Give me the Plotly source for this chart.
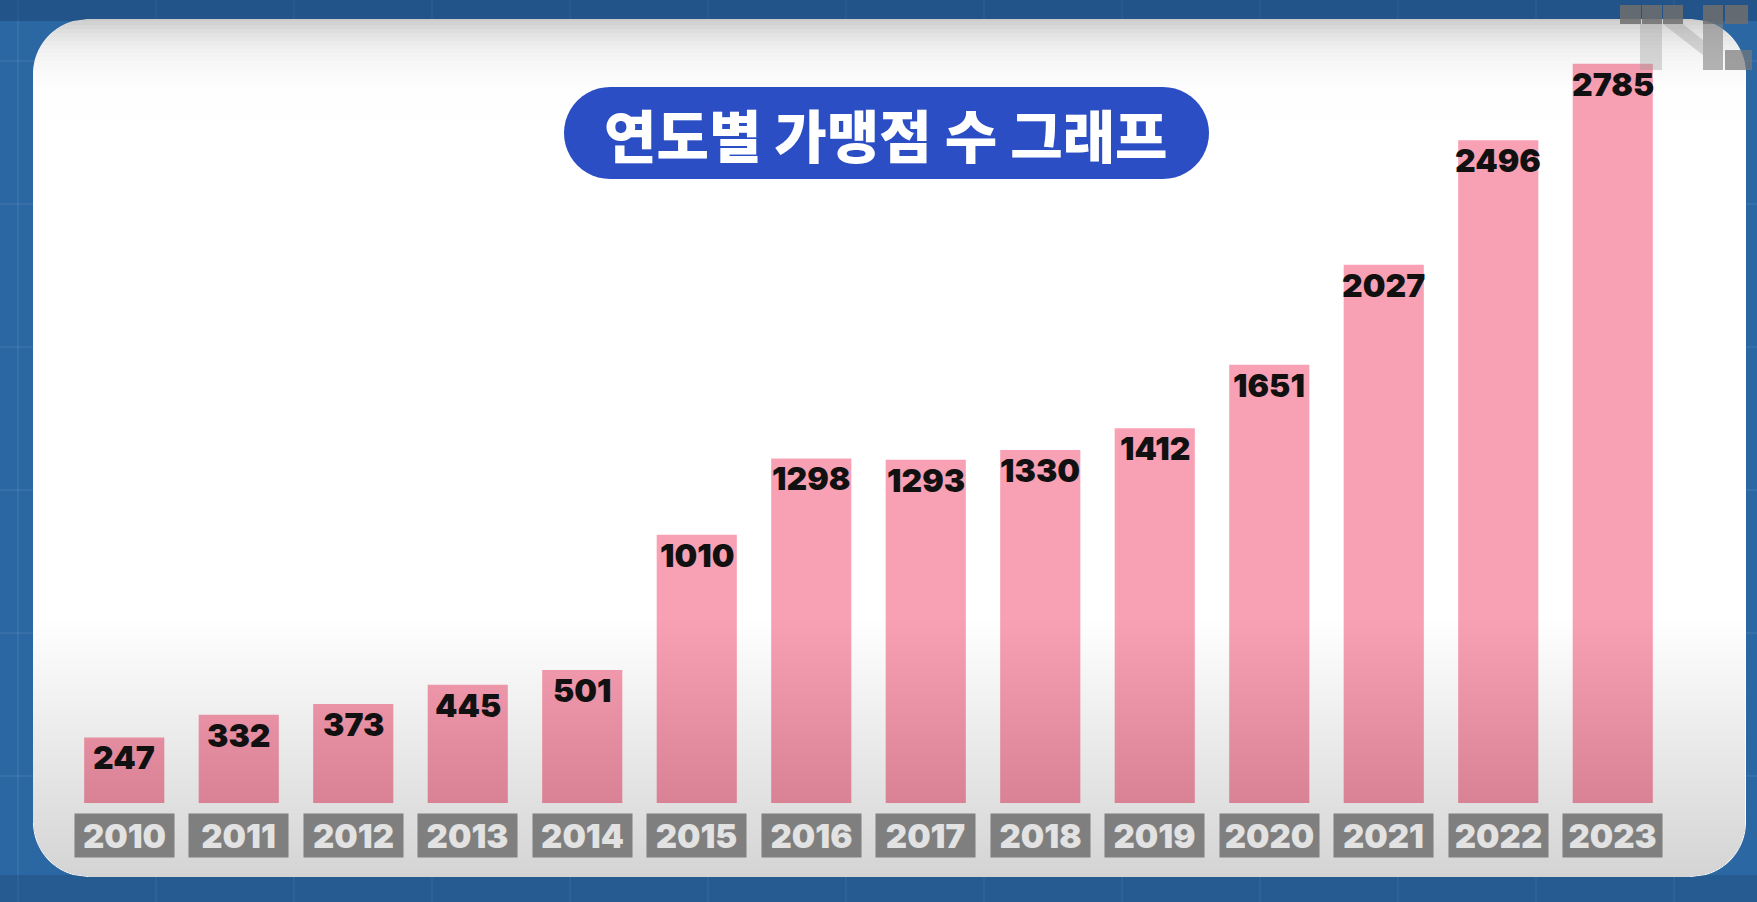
import math
import plotly.graph_objects as go

# ---------------- data ----------------
years = ["2010", "2011", "2012", "2013", "2014", "2015", "2016",
         "2017", "2018", "2019", "2020", "2021", "2022", "2023"]
stores = [247, 332, 373, 445, 501, 1010, 1298, 1293, 1330, 1412, 1651, 2027, 2496, 2785]
title_text = "연도별 가맹점 수 그래프"

# ---------------- geometry helpers ----------------
W, H = 1757, 902
ML, MR, MT, MB = 67, 87, 40, 99
PW = W - ML - MR
PH = H - MT - MB
Y_MAX = 2874


def px(x):
    return (x - ML) / PW


def py(y):
    return (H - MB - y) / PH


def path_from(pts):
    return "M " + " L ".join(f"{px(x):.5f},{py(y):.5f}" for x, y in pts) + " Z"


CX0, CY0, CX1, CY1, CR = 33, 19, 1746, 877, 55


def card_xl(y):
    if y < CY0 + CR:
        dy = CY0 + CR - y
    elif y > CY1 - CR:
        dy = y - (CY1 - CR)
    else:
        dy = 0
    dy = min(dy, CR)
    return CX0 + CR - math.sqrt(max(CR * CR - dy * dy, 0))


def card_band(y0, y1):
    ys = [y0]
    y = y0
    while y < y1:
        y = min(y + 2, y1)
        ys.append(y)
    left = [(card_xl(v), v) for v in ys]
    right = [(CX0 + CX1 - card_xl(v), v) for v in reversed(ys)]
    return left + right


def pill(x0, y0, x1, y1):
    r = (y1 - y0) / 2
    cy = (y0 + y1) / 2
    pts = []
    for i in range(25):
        a = math.pi / 2 + math.pi * i / 24
        pts.append((x0 + r + r * math.cos(a), cy - r * math.sin(a)))
    for i in range(25):
        a = -math.pi / 2 + math.pi * i / 24
        pts.append((x1 - r + r * math.cos(a), cy - r * math.sin(a)))
    return pts


shapes = []

# faint grid on the blue background
for gx in range(18, W, 138):
    shapes.append(dict(type="line", xref="paper", yref="paper", layer="below",
                       x0=px(gx), x1=px(gx), y0=py(0), y1=py(H),
                       line=dict(color="rgba(255,255,255,0.06)", width=2)))
for gy in range(61, H, 143):
    shapes.append(dict(type="line", xref="paper", yref="paper", layer="below",
                       x0=px(0), x1=px(W), y0=py(gy), y1=py(gy),
                       line=dict(color="rgba(255,255,255,0.06)", width=2)))
# darker top / bottom strips of the blue background
shapes.append(dict(type="rect", xref="paper", yref="paper", layer="below",
                   x0=px(0), x1=px(W), y0=py(0), y1=py(CY0 + 2),
                   fillcolor="rgba(20,50,90,0.35)", line=dict(width=0)))
shapes.append(dict(type="rect", xref="paper", yref="paper", layer="below",
                   x0=px(0), x1=px(W), y0=py(CY1 - 2), y1=py(H),
                   fillcolor="rgba(20,50,90,0.25)", line=dict(width=0)))

# white card
shapes.append(dict(type="path", xref="paper", yref="paper", layer="below",
                   path=path_from(card_band(CY0, CY1)),
                   fillcolor="#ffffff", line=dict(width=0)))

# top shading of the card (cumulative bands)
prev = 0.0
for yy in range(121, CY0, -4):
    d = 0.23 * math.exp(-(yy - CY0) / 26.0)
    shapes.append(dict(type="path", xref="paper", yref="paper", layer="above",
                       path=path_from(card_band(CY0, yy)),
                       fillcolor=f"rgba(0,0,0,{max(d - prev, 0):.4f})", line=dict(width=0)))
    prev = d

# bottom shading of the card (cumulative bands)
prev = 0.0
for yy in range(615, CY1, 6):
    d = 0.105 * ((yy - 615) / (CY1 - 615)) ** 0.9
    shapes.append(dict(type="path", xref="paper", yref="paper", layer="above",
                       path=path_from(card_band(yy, CY1)),
                       fillcolor=f"rgba(0,0,0,{max(d - prev, 0):.4f})", line=dict(width=0)))
    prev = d

# title pill
shapes.append(dict(type="path", xref="paper", yref="paper", layer="above",
                   path=path_from(pill(564, 87, 1209, 179)),
                   fillcolor="#2c4ec5", line=dict(width=0)))

# watermark logo blocks (top right)
logo_dark = "rgba(110,110,110,0.85)"
logo_light = "rgba(150,150,150,0.35)"
for x0, x1 in [(1620, 1641), (1642, 1662), (1663, 1683), (1703, 1723), (1725, 1748)]:
    shapes.append(dict(type="rect", xref="paper", yref="paper", layer="above",
                       x0=px(x0), x1=px(x1), y0=py(5), y1=py(24),
                       fillcolor=logo_dark, line=dict(width=0)))
shapes.append(dict(type="path", xref="paper", yref="paper", layer="above",
                   path=path_from([(1663, 24), (1683, 24), (1703, 40), (1703, 55), (1663, 24)]),
                   fillcolor=logo_light, line=dict(width=0)))
shapes.append(dict(type="rect", xref="paper", yref="paper", layer="above",
                   x0=px(1640), x1=px(1662), y0=py(24), y1=py(70),
                   fillcolor=logo_light, line=dict(width=0)))
shapes.append(dict(type="rect", xref="paper", yref="paper", layer="above",
                   x0=px(1703), x1=px(1723), y0=py(24), y1=py(70),
                   fillcolor="rgba(130,130,130,0.6)", line=dict(width=0)))
shapes.append(dict(type="rect", xref="paper", yref="paper", layer="above",
                   x0=px(1725), x1=px(1752), y0=py(50), y1=py(70),
                   fillcolor="rgba(120,120,120,0.7)", line=dict(width=0)))

# ---------------- figure ----------------
fig = go.Figure()
fig.add_trace(go.Bar(
    x=years, y=stores,
    marker=dict(color="#f9a1b4", line=dict(width=0)),
    hoverinfo="x+y",
))

annotations = []
num_font = dict(family="Inter, Lato, 'DejaVu Sans', sans-serif", size=32, color="#111111", weight=900)
for i, (yr, v) in enumerate(zip(years, stores)):
    # category axis: position by category index
    annotations.append(dict(x=i, y=v, xref="x", yref="y", text=str(v),
                            showarrow=False, yanchor="top", xanchor="center",
                            yshift=1, font=num_font))
    annotations.append(dict(x=i, y=0, xref="x", yref="y", text=yr,
                            showarrow=False, yanchor="top", xanchor="center",
                            yshift=-10, width=95, height=39, borderpad=2,
                            bgcolor="#7f7f7f", valign="middle",
                            font=dict(family="Inter, Lato, sans-serif", size=33,
                                      color="#e2e2e2", weight=900)))

annotations.append(dict(x=px(886), y=py(133), xref="paper", yref="paper",
                        text=title_text, showarrow=False,
                        xanchor="center", yanchor="middle",
                        font=dict(family="'Noto Sans CJK KR Black', 'Noto Sans CJK KR', 'Noto Sans', sans-serif",
                                  size=57, color="#ffffff", weight=900)))

fig.update_layout(
    width=W, height=H,
    margin=dict(l=ML, r=MR, t=MT, b=MB, pad=0),
    paper_bgcolor="#2b68a3",
    plot_bgcolor="rgba(0,0,0,0)",
    bargap=0.30,
    showlegend=False,
    shapes=shapes,
    annotations=annotations,
    xaxis=dict(type="category", categoryorder="array", categoryarray=years,
               range=[-0.5, len(years) - 0.5],
               showticklabels=False, showgrid=False, zeroline=False, showline=False,
               ticks="", fixedrange=True),
    yaxis=dict(range=[0, Y_MAX], visible=False, showgrid=False, zeroline=False,
               fixedrange=True),
)

fig.write_html("out.html", config={"displayModeBar": False},
               post_script="document.body.style.margin='0';document.body.style.overflow='hidden';")
